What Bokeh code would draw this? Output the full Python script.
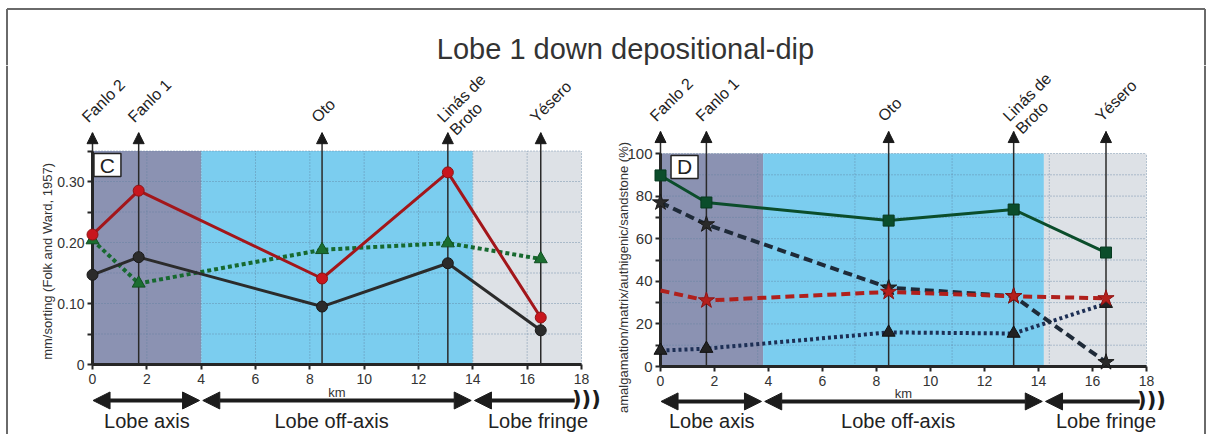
from math import pi
from bokeh.plotting import figure
from bokeh.models import Range1d, Arrow, NormalHead, FixedTicker, ColumnDataSource, Span
from bokeh.layouts import row, column
from bokeh.core.properties import value
from bokeh.embed import file_html
from bokeh.resources import INLINE

FONT = "Liberation Sans"

# ---------------- data ----------------
title = "Lobe 1 down depositional-dip"
stations = ["Fanlo 2", "Fanlo 1", "Oto", "Linás de\nBroto", "Yésero"]
station_km = [0.0, 1.7, 8.45, 13.08, 16.5]

# panel C : mm/sorting (Folk and Ward, 1957)
c_ylabel = "mm/sorting (Folk and Ward, 1957)"
c_red = [0.213, 0.285, 0.141, 0.315, 0.077]
c_black = [0.147, 0.176, 0.095, 0.166, 0.056]
c_green = [0.204, 0.133, 0.188, 0.199, 0.173]
c_yticks = [0, 0.05, 0.1, 0.15, 0.2, 0.25, 0.3, 0.35]
c_ylabels = ["0", "", "0.10", "", "0.20", "", "0.30", ""]

# panel D : amalgamation/matrix/authigenic/sandstone (%)
d_ylabel = "amalgamation/matrix/authigenic/sandstone (%)"
d_green = [89.7, 77.0, 68.5, 73.7, 53.5]
d_black = [77.0, 66.7, 37.0, 33.0, 2.0]
d_red = [35.7, 31.0, 35.0, 33.0, 32.0]
d_navy = [7.5, 8.4, 16.0, 15.5, 29.5]
d_yticks = [0, 10, 20, 30, 40, 50, 60, 70, 80, 90, 100]
d_ylabels = ["0", "", "20", "", "40", "", "60", "", "80", "", "100"]

xticks = [0, 2, 4, 6, 8, 10, 12, 14, 16, 18]
xlabel = "km"

zones = ["Lobe axis", "Lobe off-axis", "Lobe fringe"]
c_zone_edges = [0, 4, 14, 18]
d_zone_edges = [0, 3.8, 14.2, 18]
zone_colors = ["#8b92b2", "#7bcdef", "#dde1e6"]

c_vgrid = [2, 4, 6, 8, 10, 12, 14, 16, 18]
c_hgrid = [0.05, 0.1, 0.15, 0.2, 0.25, 0.3, 0.35]
d_vgrid = [3.6, 7.2, 10.8, 14.4, 18]
d_hgrid = [10, 20, 30, 40, 50, 60, 70, 80, 90, 100]

GRID = "#5f7f9f"
DARK = "#1c1c1c"
BORDER = "#6a6a6a"

# page geometry (Bokeh's page has no body margin)
TOTAL_W, TOTAL_H = 1206, 434
TITLE_H = 65
FIG_H = TOTAL_H - TITLE_H
LEFT_W = 600
RIGHT_W = TOTAL_W - LEFT_W
BOX_L, BOX_T, BOX_R = 6.5, 8.5, 1204.5


def base_fig(width, height, xr, yr):
    p = figure(width=width, height=height, x_range=Range1d(*xr), y_range=Range1d(*yr),
               output_backend="svg", toolbar_location=None, title=None, min_border=0,
               outline_line_color=None, background_fill_color="white",
               border_fill_color="white")
    p.grid.visible = False
    return p


def decorate(p, edges, ytop, vgrid, hgrid, yticks, ylabels, ylab_font, letter, letter_xy,
             tip, ylabel, ylabel_xy, km_y, arrow_y, zone_y, unit):
    # zones
    p.quad(left=edges[:-1], right=edges[1:], bottom=0, top=ytop,
           fill_color=zone_colors, line_color=None)
    # grid
    p.segment(x0=vgrid, y0=[0] * len(vgrid), x1=vgrid, y1=[ytop] * len(vgrid),
              line_color=GRID, line_dash="1 2", line_width=1, line_alpha=0.8)
    p.segment(x0=[0] * len(hgrid), y0=hgrid, x1=[18] * len(hgrid), y1=hgrid,
              line_color=GRID, line_dash="1 2", line_width=1, line_alpha=0.8)
    # station shafts
    p.segment(x0=station_km, y0=[0] * 5, x1=station_km, y1=[tip] * 5,
              line_color="#2a2a2a", line_width=1.5)
    src = ColumnDataSource(dict(x=station_km, y0=[tip - unit * 2] * 5, y1=[tip] * 5))
    p.add_layout(Arrow(x_start="x", y_start="y0", x_end="x", y_end="y1", source=src,
                       line_color="#2a2a2a", line_width=1.5,
                       end=NormalHead(size=11, fill_color="#1a1a1a", line_color="#1a1a1a")))
    p.text(x=station_km, y=[tip] * 5, text=stations, angle=pi / 4,
           text_align="left", text_baseline="top", x_offset=-14, y_offset=-19,
           text_font=value(FONT), text_font_size="16px", text_color="#222222",
           text_line_height=1.05)
    # axes
    xa = p.xaxis[0]
    ya = p.yaxis[0]
    xa.fixed_location = 0
    ya.fixed_location = 0
    xa.bounds = (0, 18)
    ya.bounds = (0, ytop)
    xa.ticker = FixedTicker(ticks=xticks)
    ya.ticker = FixedTicker(ticks=yticks)
    ya.major_label_overrides = {t: l for t, l in zip(yticks, ylabels)}
    for ax in (xa, ya):
        ax.axis_line_color = "#262626"
        ax.axis_line_width = 3
        ax.major_tick_line_color = "#262626"
        ax.major_tick_line_width = 2
        ax.major_tick_out = 5
        ax.major_tick_in = 0
        ax.minor_tick_line_color = None
        ax.major_label_text_font = FONT
        ax.major_label_text_color = "#333333"
        ax.major_label_standoff = 4
    xa.major_label_text_font_size = "14px"
    ya.major_label_text_font_size = ylab_font
    ya.major_label_standoff = 3
    # axis titles
    p.text(x=[ylabel_xy[0]], y=[ylabel_xy[1]], text=[ylabel], angle=pi / 2,
           text_align="center", text_baseline="middle", text_font=value(FONT),
           text_font_size="13px", text_color="#333333")
    p.text(x=[9], y=[km_y], text=[xlabel], text_align="center", text_baseline="middle",
           text_font=value(FONT), text_font_size="13px", text_color="#333333")
    # panel letter
    p.rect(x=[letter_xy[0]], y=[letter_xy[1]], width=27, height=23, width_units="screen",
           height_units="screen", fill_color="white", line_color="#222222", line_width=1.5)
    p.text(x=[letter_xy[0]], y=[letter_xy[1]], text=[letter], text_align="center",
           text_baseline="middle", text_font=value(FONT), text_font_size="21px",
           text_color="#222222")
    # zone arrows
    g = 0.06
    for a, b, both in [(edges[0] + 0.02, edges[1] - g, True),
                       (edges[1] + g, edges[2] - g, True),
                       (edges[2] + g, 17.75, False)]:
        p.add_layout(Arrow(x_start=a, y_start=arrow_y, x_end=b, y_end=arrow_y,
                           line_color=DARK, line_width=4,
                           start=NormalHead(size=17, fill_color=DARK, line_color=DARK),
                           end=NormalHead(size=17, fill_color=DARK, line_color=DARK) if both else None))
    p.text(x=[17.65], y=[arrow_y], text=[")))"], text_align="left", text_baseline="middle",
           text_font=value("DejaVu Sans"), text_font_style="bold", text_font_size="21px",
           text_color=DARK, y_offset=-1)
    centers = [(edges[i] + edges[i + 1]) / 2 for i in range(3)]
    centers[1] = centers[1] - 0.2
    centers[2] = centers[2] + 0.4
    p.text(x=centers, y=[zone_y] * 3, text=zones, text_align="center",
           text_baseline="middle", text_font=value(FONT), text_font_size="20px",
           text_color="#222222")


# ---------------- title ----------------
pt = figure(width=TOTAL_W, height=TITLE_H, x_range=Range1d(0, TOTAL_W),
            y_range=Range1d(TITLE_H, 0), output_backend="svg",
            toolbar_location=None, title=None, min_border=0, outline_line_color=None,
            background_fill_color="white", border_fill_color="white")
pt.axis.visible = False
pt.grid.visible = False
pt.text(x=[625], y=[48], text=[title], text_align="center", text_baseline="middle",
        text_font=value(FONT), text_font_size="29px", text_color="#333333")
pt.segment(x0=[BOX_L, BOX_L, BOX_R], y0=[BOX_T, BOX_T, BOX_T],
           x1=[BOX_R, BOX_L, BOX_R], y1=[BOX_T, TITLE_H, TITLE_H],
           line_color=BORDER, line_width=2)

# ---------------- panel C ----------------
pxc = 27.1667
c_x0 = (0 - 92) / pxc
c_x1 = (LEFT_W - 92) / pxc
c_y0 = (364 - TOTAL_H) / 610
c_y1 = (364 - TITLE_H) / 610
p1 = base_fig(LEFT_W, FIG_H, (c_x0, c_x1), (c_y0, c_y1))
decorate(p1, c_zone_edges, 0.35, c_vgrid, c_hgrid, c_yticks, c_ylabels, "14px", "C",
         (0.55, 0.327), 0.380, c_ylabel, (-1.66, 0.169), -0.046, -0.059, -0.0934, 1 / 610)
p1.add_layout(Span(location=c_x0 + BOX_L / pxc, dimension="height", line_color=BORDER,
                   line_width=2))

r = p1.line(station_km, c_green, line_color="#17692f", line_width=4, line_dash="4 3")
r.level = "overlay"
r = p1.line(station_km, c_black, line_color="#2b2b2b", line_width=3)
r.level = "overlay"
r = p1.line(station_km, c_red, line_color="#a3161a", line_width=3)
r.level = "overlay"
r = p1.scatter(station_km, c_green, marker="triangle", size=13, fill_color="#1b6e30",
               line_color="#124f22")
r.level = "overlay"
r = p1.scatter(station_km, c_black, marker="circle", size=11, fill_color="#2b2b2b",
               line_color="#1a1a1a")
r.level = "overlay"
r = p1.scatter(station_km, c_red, marker="circle", size=11, fill_color="#c8161d",
               line_color="#8e1313")
r.level = "overlay"

# ---------------- panel D ----------------
pxd = 27.0
d_x0 = (LEFT_W - 660) / pxd
d_x1 = (TOTAL_W - 660) / pxd
d_y0 = (366 - TOTAL_H) / 2.13
d_y1 = (366 - TITLE_H) / 2.13
p2 = base_fig(RIGHT_W, FIG_H, (d_x0, d_x1), (d_y0, d_y1))
decorate(p2, d_zone_edges, 100, d_vgrid, d_hgrid, d_yticks, d_ylabels, "15px", "D",
         (0.89, 93.7), 110.3, d_ylabel, (-1.37, 41.8), -12.7, -16.4, -25.4, 1 / 2.13)
p2.add_layout(Span(location=d_x0 + (BOX_R - LEFT_W) / pxd, dimension="height",
                   line_color=BORDER, line_width=2))

r = p2.line(station_km, d_navy, line_color="#1d2f55", line_width=4, line_dash="3 3")
r.level = "overlay"
r = p2.line(station_km, d_black, line_color="#1e2a38", line_width=4, line_dash="9 5")
r.level = "overlay"
r = p2.line(station_km, d_red, line_color="#b0201c", line_width=4, line_dash="9 5")
r.level = "overlay"
r = p2.line(station_km, d_green, line_color="#0b4d2b", line_width=3)
r.level = "overlay"
r = p2.scatter(station_km, d_navy, marker="triangle", size=13, fill_color="#222222",
               line_color="#111111")
r.level = "overlay"
r = p2.scatter(station_km, d_black, marker="star", size=17, fill_color="#2a2a2a",
               line_color="#1a1a1a")
r.level = "overlay"
r = p2.scatter(station_km[1:], d_red[1:], marker="star", size=17, fill_color="#b51f1b",
               line_color="#8e1313")
r.level = "overlay"
r = p2.scatter(station_km, d_green, marker="square", size=11, fill_color="#0b4d2b",
               line_color="#073a20")
r.level = "overlay"

layout = column(pt, row(p1, p2))

open("out.html", "w").write(file_html(layout, INLINE))
